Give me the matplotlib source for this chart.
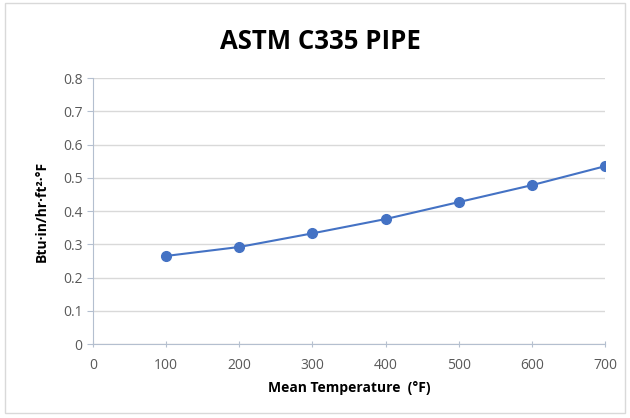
import matplotlib
matplotlib.use("Agg")
import matplotlib.pyplot as plt
from matplotlib.patches import Rectangle

# Data
temps = [100, 200, 300, 400, 500, 600, 700]
conductivity = [0.265, 0.292, 0.333, 0.376, 0.427, 0.478, 0.535]
x_ticks = [0, 100, 200, 300, 400, 500, 600, 700]
y_ticks = [0, 0.1, 0.2, 0.3, 0.4, 0.5, 0.6, 0.7, 0.8]

plt.rcParams["font.family"] = ["Open Sans", "DejaVu Sans"]

fig = plt.figure(figsize=(6.3, 4.18), dpi=100)
fig.patches.append(Rectangle((0.008, 0.012), 0.984, 0.98, transform=fig.transFigure,
                             fill=False, edgecolor="#d9d9d9", linewidth=1))
ax = fig.add_axes([0.1476, 0.177, 0.8127, 0.636])

ax.plot(temps, conductivity, color="#4472C4", linewidth=1.5,
        marker="o", markersize=7, zorder=3)

ax.set_xlim(0, 700)
ax.set_ylim(0, 0.8)
ax.set_xticks(x_ticks)
ax.set_yticks(y_ticks)
ax.set_xticklabels([str(t) for t in x_ticks])
ax.set_yticklabels(["0"] + [f"{v:.1f}" for v in y_ticks[1:]])
ax.grid(axis="y", color="#d9d9d9", linewidth=1)
ax.set_axisbelow(True)

for side in ["top", "right"]:
    ax.spines[side].set_visible(False)
for side in ["left", "bottom"]:
    ax.spines[side].set_color("#b4bfcf")
ax.tick_params(axis="both", colors="#b4bfcf", labelcolor="#595959",
               labelsize=10, length=4)
ax.tick_params(axis="x", direction="inout", pad=8)

ax.set_xlabel("Mean Temperature  (°F)", fontsize=10, fontweight="bold",
              color="black", labelpad=6)
ax.set_ylabel("Btu·in/hr·ft²·°F", fontsize=10, fontweight="bold",
              color="black", labelpad=10)
fig.text(0.508, 0.9, "ASTM C335 PIPE", ha="center", va="center",
         fontsize=18.5, fontweight="bold")

fig.savefig("out.png", dpi=100)
